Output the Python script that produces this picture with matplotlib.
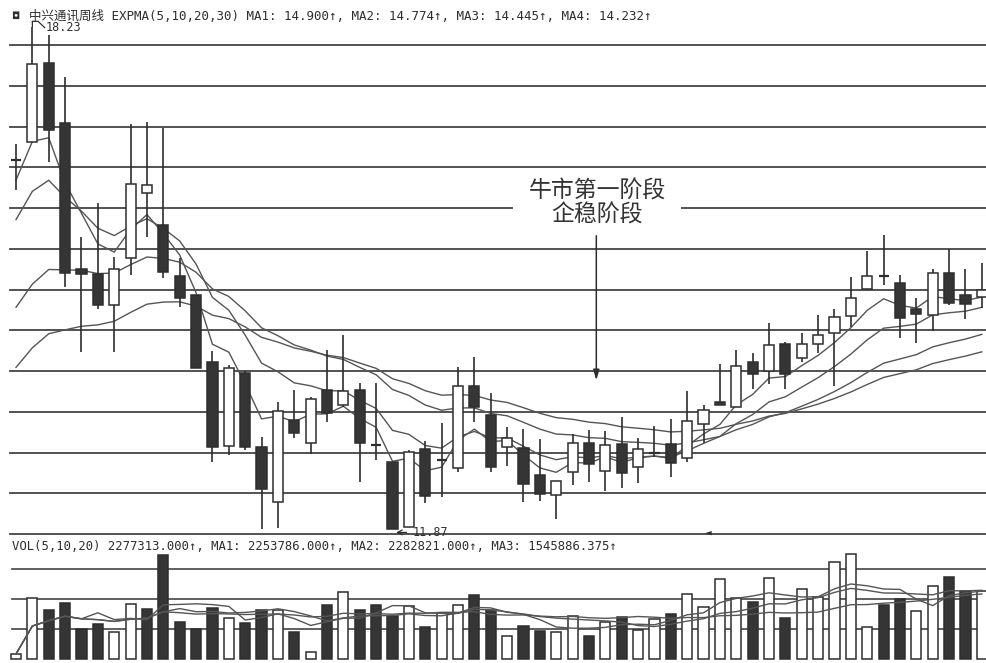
import numpy as np
import pandas as pd
import matplotlib
matplotlib.use("Agg")
import matplotlib.pyplot as plt
from matplotlib.patches import Rectangle

# weekly candles, 中兴通讯
opens = [16.54, 16.77, 17.77, 17.01, 15.17, 15.10, 14.71, 15.30, 16.13, 15.72,
         15.08, 14.84, 13.99, 12.92, 13.85, 12.91, 12.22, 13.25, 12.96, 13.63,
         13.44, 13.63, 12.94, 12.72, 11.90, 12.89, 12.75, 12.65, 13.68, 13.32,
         12.91, 12.90, 12.56, 12.30, 12.60, 12.96, 12.61, 12.95, 12.66, 12.84,
         12.95, 12.77, 13.20, 13.48, 13.42, 13.99, 13.87, 14.22, 14.04, 14.22,
         14.35, 14.57, 14.91, 15.08, 14.99, 14.66, 14.58, 15.11, 14.84, 14.81]
highs = [16.75, 18.23, 18.13, 17.60, 15.57, 16.00, 15.32, 17.00, 17.03, 16.95,
         15.30, 14.84, 14.13, 13.95, 13.87, 13.04, 13.48, 13.63, 13.55, 14.14,
         14.33, 13.72, 13.72, 12.72, 12.87, 12.99, 13.22, 13.92, 14.05, 13.60,
         13.16, 13.14, 13.01, 12.48, 13.08, 13.13, 13.11, 13.29, 13.03, 13.18,
         13.27, 13.62, 13.44, 13.96, 14.14, 14.10, 14.48, 14.24, 14.35, 14.58,
         14.66, 15.06, 15.39, 15.60, 15.09, 14.80, 15.17, 15.42, 15.17, 15.24]
lows = [16.17, 16.77, 16.52, 14.94, 14.11, 14.66, 14.11, 15.09, 15.57, 15.05,
        14.68, 13.91, 12.72, 12.81, 12.87, 11.88, 11.89, 13.03, 12.82, 13.23,
        13.42, 12.47, 12.75, 11.87, 11.90, 12.20, 12.28, 12.60, 13.23, 12.60,
        12.67, 12.22, 12.23, 12.00, 12.43, 12.47, 12.35, 12.39, 12.46, 12.79,
        12.53, 12.72, 12.96, 13.44, 13.42, 13.65, 13.71, 13.65, 13.99, 14.10,
        13.68, 14.43, 14.91, 14.96, 14.29, 14.23, 14.38, 14.71, 14.53, 14.67]
closes = [16.54, 17.76, 16.92, 15.11, 15.10, 14.71, 15.17, 16.24, 16.23, 15.13,
          14.80, 13.91, 12.91, 13.91, 12.91, 12.38, 13.37, 13.09, 13.52, 13.34,
          13.62, 12.96, 12.94, 11.87, 12.85, 12.29, 12.75, 13.68, 13.42, 12.66,
          13.03, 12.44, 12.32, 12.48, 12.96, 12.70, 12.94, 12.58, 12.89, 12.84,
          12.71, 13.24, 13.38, 13.44, 13.94, 13.84, 14.20, 13.84, 14.22, 14.33,
          14.56, 14.80, 15.08, 15.08, 14.54, 14.60, 15.11, 14.73, 14.72, 14.90]
volumes = [167000, 2033000, 1633000, 1867000, 1000000, 1167000, 900000, 1833000, 1667000, 3467000,
           1233000, 1000000, 1700000, 1367000, 1200000, 1633000, 1633000, 900000, 233000, 1800000,
           2233000, 1633000, 1800000, 1433000, 1767000, 1067000, 1533000, 1800000, 2133000, 1633000,
           767000, 1100000, 933000, 900000, 1433000, 767000, 1233000, 1400000, 967000, 1333000,
           1500000, 2167000, 1733000, 2667000, 2033000, 1900000, 2700000, 1367000, 2333000, 2067000,
           3233000, 3500000, 1067000, 1800000, 2000000, 1600000, 2433000, 2733000, 2267000, 2277313]
vol_up = [1, 1, 0, 0, 0, 0, 1, 1, 0, 0, 0, 0, 0, 1, 0, 0, 1, 0, 1, 0,
          1, 0, 0, 0, 1, 0, 1, 1, 0, 0, 1, 0, 0, 1, 1, 0, 1, 0, 1, 1,
          0, 1, 1, 1, 1, 0, 1, 0, 1, 1, 1, 1, 1, 0, 0, 1, 1, 0, 0, 1]

ema_periods = [5, 10, 20, 30]
ema_start = [16.29, 15.79, 14.68, 13.92]   # EXPMA values at the first visible week
vol_periods = [5, 10, 20]

header = "中兴通讯周线 EXPMA(5,10,20,30) MA1: 14.900↑, MA2: 14.774↑, MA3: 14.445↑, MA4: 14.232↑"
vol_header = "VOL(5,10,20) 2277313.000↑, MA1: 2253786.000↑, MA2: 2282821.000↑, MA3: 1545886.375↑"
note = "牛市第一阶段\n企稳阶段"

W, H = 987, 663
INK = "#2e2e2e"
LINE = "#555555"
mono = ["DejaVu Sans Mono", "Noto Sans CJK SC"]


def expma(values, n, start):
    a = 2.0 / (n + 1)
    out = [start]
    for v in values[1:]:
        out.append(a * v + (1 - a) * out[-1])
    return out


x = np.arange(len(closes))
fig = plt.figure(figsize=(W / 100, H / 100), dpi=100)

# price panel: pixel rows 0..540
ax = fig.add_axes([0, (H - 540) / H, 1, 540 / H])
ax.set_xlim(-16 / 16.37, (W - 16) / 16.37)
ax.set_ylim(18.57 - 540 / 79, 18.57)
ax.axis("off")

for lvl in 18.00 - 0.516 * np.arange(13):
    ax.axhline(lvl, xmin=10 / W, color="#444444", lw=1.3, zorder=1)

bw = 0.62
for i in x:
    o, h, l, c = opens[i], highs[i], lows[i], closes[i]
    ax.vlines(i, l, h, color=INK, lw=1.2, zorder=3)
    if abs(c - o) < 0.02:
        ax.hlines(o, i - bw / 2, i + bw / 2, color=INK, lw=1.6, zorder=4)
    else:
        fc = "white" if c > o else "#353535"
        ax.bar(i, abs(c - o), bottom=min(o, c), width=bw, facecolor=fc,
               edgecolor=INK, lw=1.1, zorder=4)

for n, s in zip(ema_periods, ema_start):
    ax.plot(x, expma(closes, n, s), color=LINE, lw=1.0, zorder=2)

# high / low marks
ax.plot([1, 1, 1.35, 1.75], [18.23, 18.30, 18.30, 18.22], color=INK, lw=0.9)
ax.text(1.8, 18.22, "18.23", family=mono, fontsize=8.5, color=INK, va="center")
ax.annotate("11.87", xy=(23.05, 11.83), xytext=(24.2, 11.83), family=mono,
            fontsize=8.5, color=INK, va="center", zorder=8,
            arrowprops=dict(arrowstyle="->", color=INK, lw=0.9))
ax.text(42.3, 11.81, "◄", family=mono, fontsize=8, color=INK, va="center", ha="center")

# stage note
fig.add_artist(Rectangle((513 / W, 1 - 216 / H), 168 / W, 14 / H,
                         transform=fig.transFigure, facecolor="white",
                         edgecolor="none", zorder=5))
fig.text(597 / W, 1 - 203 / H, note, ha="center", va="center", fontsize=16.5,
         family=["Noto Sans CJK SC"], color="#333333", linespacing=1.05, zorder=6)
ax.annotate("", xy=(35.45, 18.57 - 383 / 79), xytext=(35.45, 18.57 - 233 / 79),
            arrowprops=dict(arrowstyle="-|>,head_width=0.18,head_length=0.6",
                            color=INK, lw=1.1), zorder=6)

fig.text(12 / W, 1 - 16 / H, "◘", family=mono, fontsize=7.5, color=INK, va="center")
fig.text(29 / W, 1 - 16 / H, header, family=mono, fontsize=9.0, color=INK, va="center")

# volume panel: pixel rows 548..663
vx = fig.add_axes([0, 0, 1, 115 / H])
vx.set_xlim(ax.get_xlim())
vx.set_ylim(-4 * 33333, 111 * 33333)
vx.axis("off")
for lvl in [1e6, 2e6, 3e6]:
    vx.axhline(lvl, xmin=12 / W, color="#444444", lw=1.2, zorder=1)
for i in x:
    fc = "white" if vol_up[i] else "#353535"
    vx.bar(i, volumes[i], width=bw, facecolor=fc, edgecolor=INK, lw=1.1, zorder=3)
vs = pd.Series(volumes, dtype=float)
for n in vol_periods:
    vx.plot(x, vs.rolling(n, min_periods=1).mean(), color=LINE, lw=1.0, zorder=4)

fig.text(12 / W, 1 - 546 / H, vol_header, family=mono, fontsize=8.8, color=INK, va="center")

fig.savefig("out.png", dpi=100, facecolor="white")
